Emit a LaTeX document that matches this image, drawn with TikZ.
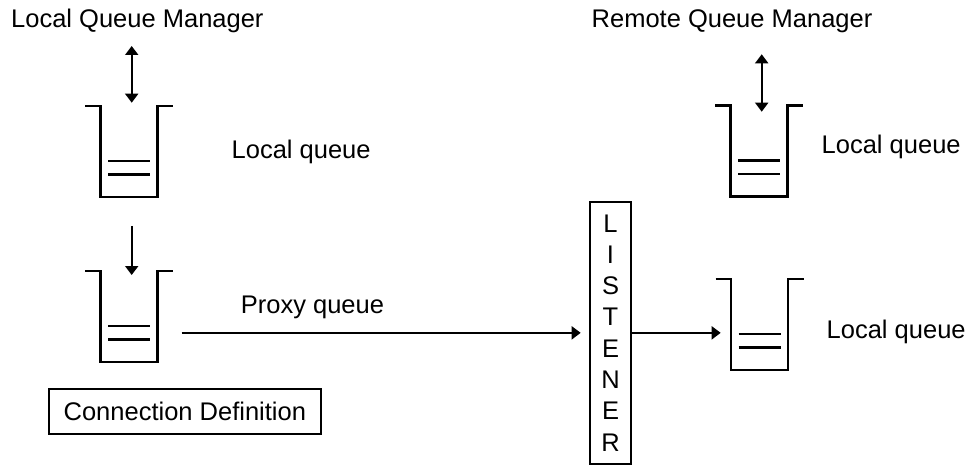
\documentclass[tikz,border=0pt]{standalone}
\usepackage{fontspec}
\setmainfont{Liberation Sans}
\usetikzlibrary{arrows.meta}
\tikzset{
  qline/.style={line width=2.6pt},
  conn/.style={line width=1.9pt,-{Triangle[length=9pt,width=13pt]}},
  biconn/.style={line width=1.9pt,{Triangle[length=9pt,width=13pt]}-{Triangle[length=9pt,width=13pt]}},
  lbl/.style={inner sep=0pt,anchor=base west,font=\fontsize{25.5}{30}\selectfont},
  boxnode/.style={draw,line width=2pt,inner sep=0pt,font=\fontsize{25.5}{30}\selectfont},
  queue/.pic={
    \draw[qline] (-15.5,0) -- (0,0) -- (0,91) -- (57,91) -- (57,0) -- (72.5,0);
    \draw[qline] (7.5,55) -- (49.5,55) (7.5,68.5) -- (49.5,68.5);
  }
}
\begin{document}
\begin{tikzpicture}[x=1pt,y=-1pt]
\useasboundingbox (0,0) rectangle (972,465);
% titles
\node[lbl] (lqm) at (11,27.3) {Local Queue Manager};
\node[lbl] (rqm) at (591.5,27.3) {Remote Queue Manager};
% queues
\pic at (100.5,106) {queue};
\pic at (100.5,271) {queue};
\pic at (730.7,105.7) {queue};
\pic at (731,279) {queue};
% labels
\node[lbl] (lq1) at (231.5,158.3) {Local queue};
\node[lbl] (lq3) at (821.5,153.3) {Local queue};
\node[lbl] (lq4) at (826.5,338.3) {Local queue};
\node[lbl] (pq) at (240.7,313.3) {Proxy queue};
% boxes
\node[boxnode,minimum width=41pt,minimum height=262.3pt,align=center,
      font=\fontsize{25.5}{31.3}\selectfont] (listener) at (610.5,332.85)
      {L\\I\\S\\T\\E\\N\\E\\R};
\node[boxnode,minimum width=271.7pt,minimum height=44.7pt] (conndef) at (184.85,411.65) {Connection Definition};
% connector end points
\coordinate (a1top) at (131.7,46);
\coordinate (a1bot) at (131.7,102.7);
\coordinate (a2top) at (131.7,226);
\coordinate (a2bot) at (131.7,275);
\coordinate (a3top) at (761.7,54.3);
\coordinate (a3bot) at (761.7,111.7);
\coordinate (pqout) at (181.7,332.85);
\coordinate (q4in) at (720.7,332.85);
% connectors
\draw[biconn] (a1top) -- (a1bot);
\draw[conn] (a2top) -- (a2bot);
\draw[biconn] (a3top) -- (a3bot);
\draw[conn,shorten >=8.3pt] (pqout) -- (listener.west);
\draw[conn] (listener.east) -- (q4in);
\end{tikzpicture}
\end{document}
